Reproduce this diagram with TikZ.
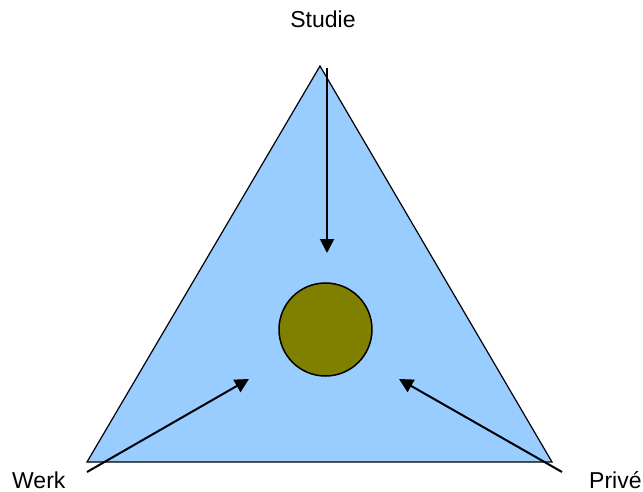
\documentclass[tikz,border=0pt]{standalone}
\usepackage{fontspec}
\setmainfont{Liberation Sans}
\usetikzlibrary{arrows.meta}

\begin{document}
\begin{tikzpicture}[x=1pt, y=-1pt,
        label text/.style={font=\fontsize{23}{27}\selectfont},
        flow arrow/.style={line width=2pt, -{Triangle[length=14pt, width=14pt]}}]
        \useasboundingbox (0,0) rectangle (643,492);

        % Triangle
        \coordinate (top) at (320,66);
        \coordinate (left) at (87,462);
        \coordinate (right) at (552,462);
        \draw[line width=1.2pt, fill={rgb,255:red,153;green,204;blue,255}] (top) -- (left) -- (right) -- cycle;

        % Centre circle
        \node[draw, circle, line width=1.5pt, fill={rgb,255:red,128;green,128;blue,0}, minimum size=93pt, inner sep=0pt] (core) at (325.5,329.5) {};

        % Labels
        \node[label text, anchor=base] (studie) at (323,28) {Studie};
        \node[label text, anchor=base west, inner sep=0pt] (werk) at (12,488) {Werk};
        \node[label text, anchor=base west, inner sep=0pt] (prive) at (589,488) {Privé};

        % Arrows
        \coordinate (studie start) at (327,68);
        \coordinate (studie tip) at (327,253);
        \coordinate (werk start) at (87,472);
        \coordinate (werk tip) at (249,379);
        \coordinate (prive start) at (562,472);
        \coordinate (prive tip) at (399,379);
        \draw[flow arrow] (studie start) -- (studie tip);
        \draw[flow arrow] (werk start) -- (werk tip);
        \draw[flow arrow] (prive start) -- (prive tip);

    \end{tikzpicture}
\end{document}
